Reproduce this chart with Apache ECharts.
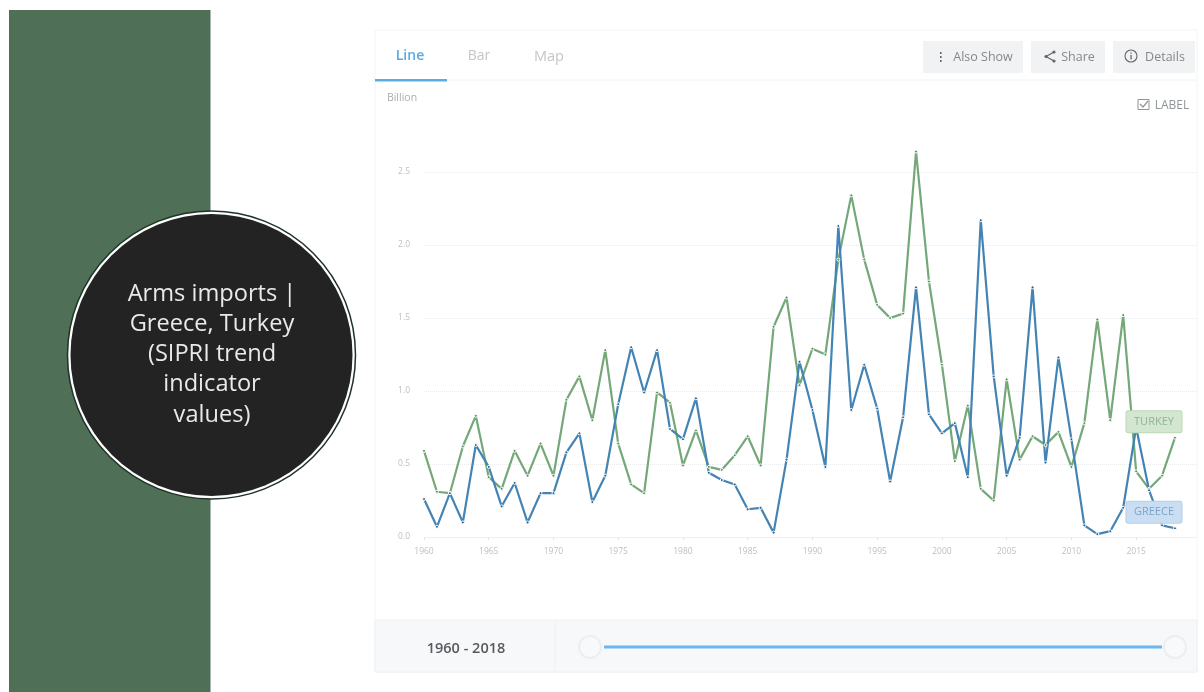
<!DOCTYPE html>
<html>
<head>
<meta charset="utf-8">
<style>html,body{margin:0;padding:0;background:#fff}#c{width:1204px;height:692px}</style>
<script src="https://cdn.jsdelivr.net/npm/echarts@6/dist/echarts.min.js"></script>
</head>
<body>
<div id="c"></div>
<script>
const startYear = 1960;
const turkey = [0.59,0.31,0.30,0.62,0.83,0.41,0.33,0.59,0.42,0.64,0.42,0.94,1.10,0.80,1.28,0.64,0.36,0.30,0.99,0.92,0.49,0.73,0.48,0.46,0.56,0.69,0.49,1.44,1.64,1.04,1.29,1.25,1.90,2.34,1.90,1.59,1.50,1.53,2.64,1.75,1.18,0.52,0.90,0.33,0.25,1.08,0.53,0.69,0.63,0.72,0.48,0.78,1.49,0.80,1.52,0.45,0.33,0.42,0.68];
const greece = [0.26,0.07,0.30,0.10,0.63,0.48,0.21,0.37,0.10,0.30,0.30,0.58,0.71,0.24,0.42,0.91,1.30,0.99,1.28,0.74,0.67,0.95,0.44,0.39,0.36,0.19,0.20,0.03,0.53,1.20,0.87,0.48,2.13,0.87,1.18,0.88,0.38,0.82,1.71,0.84,0.71,0.78,0.41,2.17,1.10,0.42,0.68,1.71,0.51,1.23,0.67,0.08,0.02,0.04,0.20,0.75,0.32,0.08,0.06];
const titleLines = ['Arms imports |','Greece, Turkey','(SIPRI trend','indicator','values)'];
const tabs = ['Line','Bar','Map'];
const buttons = ['Also Show','Share','Details'];
const rangeLabel = '1960 - 2018';

const pair = arr => arr.map((v,i)=>[startYear+i,v]);
const font = '"Open Sans","Noto Sans",sans-serif';
const txt = (x,y,text,fill,size,extra) => ({type:'text',x,y,silent:true,style:Object.assign({text,fill,font:`${size}px ${font}`,textAlign:'center',textVerticalAlign:'middle'},extra||{})});
const rect = (x,y,w,h,fill,stroke,z,r) => ({type:'rect',silent:true,z:z||0,shape:{x,y,width:w,height:h,r:r||0},style:{fill,stroke:stroke||null,lineWidth:1}});
const circ = (cx,cy,r,fill,stroke,lw) => ({type:'circle',silent:true,shape:{cx,cy,r},style:{fill,stroke:stroke||null,lineWidth:lw||1}});
const seg = (x1,y1,x2,y2,stroke,lw) => ({type:'line',silent:true,shape:{x1,y1,x2,y2},style:{stroke,lineWidth:lw||1}});

const g = [
  rect(375,30,822,642,'#fff','#f3f4f5'),
  seg(376,80,1196,80,'#f1f2f3'),
  rect(375,79,72,2.5,'#5aaee8'),
  txt(410,56.5,tabs[0],'#58a9e2',14,{font:`600 14px ${font}`}),
  txt(479,56.5,tabs[1],'#c3c6c9',14),
  txt(549,56.5,tabs[2],'#c3c6c9',14.5),
  rect(923,41,100,32,'#f1f2f4'),
  rect(1031,41,74,32,'#f1f2f4'),
  rect(1113,41,82,32,'#f1f2f4'),
  rect(940,52,1.6,2,'#666'),rect(940,56,1.6,2,'#666'),rect(940,60,1.6,2,'#666'),
  txt(983,57,buttons[0],'#84888c',12.5),
  {type:'polyline',silent:true,shape:{points:[[1054,52],[1046,56.5],[1054,61]]},style:{stroke:'#666',fill:null,lineWidth:1.2}},
  circ(1054,52,1.6,'#666'),circ(1046,56.5,1.6,'#666'),circ(1054,61,1.6,'#666'),
  txt(1078,57,buttons[1],'#84888c',12.5),
  circ(1131,56,6,null,'#666',1.1),
  rect(1130.4,55,1.3,4.5,'#666'),rect(1130.4,52.5,1.3,1.3,'#666'),
  txt(1165,57,buttons[2],'#84888c',12.5),
  txt(402,98.5,'Billion','#a9adb0',10.5),
  rect(1138,99.5,11,10,'#fff','#8f9498'),
  {type:'polyline',silent:true,shape:{points:[[1140,104],[1143,107],[1148,101]]},style:{stroke:'#8f9498',fill:null,lineWidth:1.2}},
  txt(1172,105.5,'LABEL','#8f9498',12),
  rect(375,620,822,52,'#f7f8fa','#eff0f2'),
  seg(555,621,555,671,'#eff0f2'),
  txt(466,648.5,rangeLabel,'#555a5e',14.5,{font:`600 14.5px ${font}`}),
  seg(604,647,1162,647,'#6db5ee',3),
  circ(590,647,11,'#f8f9fa','#edeeef',2),
  circ(1175,647,11,'#f8f9fa','#edeeef',2),
  rect(9,10,201.5,682,'#4f6f56'),
  circ(211.5,355,144,'#fff','#1f3326',1.5),
  circ(211.5,355,141,'#232323'),
  ...titleLines.map((l,i)=>txt(212,294+i*30.2,l,'#e9e9e9',23.6))
];

const lineSeries = (name,data,color,dot,lblBg,lblBorder,lblText) => ({
  name,type:'line',data:pair(data),smooth:false,
  symbol:'circle',symbolSize:3,showSymbol:true,showAllSymbol:true,
  itemStyle:{color:dot,borderColor:'#fff',borderWidth:1},
  lineStyle:{color,width:2.2},
  endLabel:{show:true,formatter:name.toUpperCase(),position:'top',offset:[-29,-16],
    color:lblText,fontFamily:font,fontSize:11,backgroundColor:lblBg,borderColor:lblBorder,borderWidth:1,borderRadius:2,
    padding:[5,5,5,5],width:45,align:'center',verticalAlign:'middle'},
  animation:false
});

const chart = echarts.init(document.getElementById('c'),null,{renderer:'canvas'});
chart.setOption({
  animation:false,
  backgroundColor:'#fff',
  graphic:{elements:g},
  grid:{left:424,right:7,top:113.6,bottom:155,containLabel:false},
  xAxis:{type:'value',min:1960,max:2019.7,interval:5,
    axisLine:{lineStyle:{color:'#f0f1f2'}},
    axisTick:{lineStyle:{color:'#e4e5e6'},length:3},
    splitLine:{show:false},
    axisLabel:{color:'#bcbfc2',fontSize:8.5,fontFamily:font,margin:10,showMaxLabel:false,formatter:v=>String(v)}},
  yAxis:{type:'value',min:0,max:2.9,interval:0.5,
    axisLine:{show:false},axisTick:{show:false},
    splitLine:{showMinLine:false,showMaxLine:false,lineStyle:{color:'#e8eaec',type:'dotted'}},
    axisLabel:{color:'#bcbfc2',fontSize:8.5,fontFamily:font,margin:14,showMaxLabel:false,padding:[2,0,0,0],formatter:v=>v.toFixed(1)}},
  series:[
    lineSeries('Turkey',turkey,'#74a878','#5f8f66','#d3e6d0','#bcd8b8','#93b393'),
    lineSeries('Greece',greece,'#4384b4','#35648a','#c9def2','#b3cfe9','#7da4c9')
  ]
});
</script>
</body>
</html>
